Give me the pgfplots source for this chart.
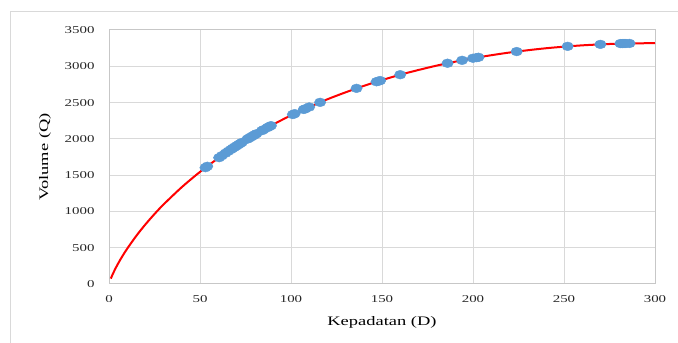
\documentclass[border=0pt]{standalone}
\usepackage{pgfplots}
\pgfplotsset{compat=1.18}
\usepackage{fontspec}
\setmainfont{Liberation Serif}[FakeStretch=1.42]
\definecolor{ptblue}{HTML}{5B9BD5}
\definecolor{gridgray}{HTML}{D9D9D9}
\definecolor{framegray}{HTML}{D9D9D9}
\begin{document}
\begin{tikzpicture}[x=1pt,y=1pt]
\useasboundingbox (0,0) rectangle (678,343);
\draw[framegray,line width=1pt] (10.5,0) -- (10.5,331) -- (678,331);
\begin{axis}[
  at={(109pt,59pt)}, anchor=south west,
  scale only axis, width=546pt, height=254pt,
  xmin=0, xmax=300, ymin=0, ymax=3500,
  xtick={0,50,...,300}, ytick={0,500,...,3500},
  grid=major, major grid style={gridgray, line width=1pt},
  axis line style={gridgray!80!gray, line width=1pt},
  major tick length=0pt,
  tick label style={font=\fontsize{10.5}{12}\selectfont, text=black!85},
  /pgf/number format/assume math mode=true,
  /pgf/number format/set thousands separator={},
  xticklabel style={yshift=-8pt},
  yticklabel style={xshift=-11pt},
  xlabel={Kepadatan (D)}, ylabel={Volume (Q)},
  label style={font=\fontsize{13}{15}\selectfont},
  xlabel style={at={(axis description cs:0.5,-0.152)}, anchor=center},
  ylabel style={at={(axis description cs:-0.117,0.5)}, anchor=center},
  clip=false,
]
\addplot[color=red, line width=2pt, smooth, no marks] coordinates {
(1,74.2) (2,133.1) (4,235.4) (6,326.2) (8,409.5) (10,487.2) (15,663.4) (20,820.8) (25,964.2) (30,1096.6) (40,1334.6) (50,1544.9) (60,1732.9) (70,1902.4) (80,2055.5) (90,2194.8) (100,2322.5) (120,2545.2) (140,2730) (160,2883.5) (180,3009) (200,3110.7) (220,3189.4) (240,3248.2) (260,3288.4) (280,3311.6) (300,3319)
};
\addplot[only marks, mark=*, mark size=4.4pt, color=ptblue, mark options={xscale=1.3, draw=ptblue, fill=ptblue}] coordinates {
(53,1603) (54,1622) (60.5,1741) (62,1768) (64,1802) (65.5,1828) (67,1853) (68,1870) (69,1886) (70,1902) (71,1918) (72,1934) (73,1950) (76,1996) (77,2011) (78,2026) (79,2041) (80,2055) (81,2070) (84,2113) (85,2127) (87,2155) (88,2168) (89,2182) (101,2335) (102,2347) (107,2405) (108,2416) (110,2439) (116,2503) (136,2696) (147,2787) (148,2795) (149,2803) (160,2884) (186,3042) (194,3082) (200,3111) (202,3119) (203,3124) (224,3203) (252,3275) (270,3302) (281,3313) (282,3313) (283,3314) (284,3314) (286,3315)
};
\end{axis}
\end{tikzpicture}
\end{document}
